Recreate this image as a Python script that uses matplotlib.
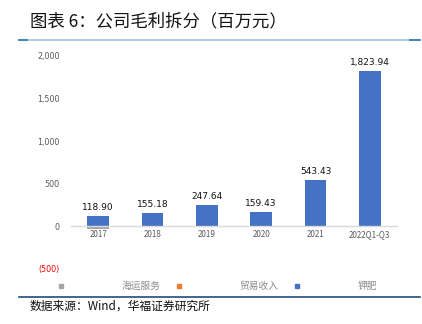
import matplotlib
matplotlib.use("Agg")
from matplotlib import pyplot as plt
from matplotlib.lines import Line2D

plt.rcParams['font.family'] = ['Noto Sans CJK SC', 'DejaVu Sans']

# data (millions of yuan)
years = ['2017', '2018', '2019', '2020', '2021', '2022Q1-Q3']
shipping = [-30, 0, 0, 0, 0, 0]      # 海运服务
trade = [-5, 0, 0, 0, 0, 0]          # 贸易收入
potash = [118.90, 155.18, 247.64, 159.43, 543.43, 1823.94]  # 钾肥
yticks = [-500, 0, 500, 1000, 1500, 2000]
ylabels = ['(500)', '0', '500', '1,000', '1,500', '2,000']

blue = '#4472c4'
orange = '#ed7d31'
grey = '#a5a5a5'

fig = plt.figure(figsize=(4.22, 3.24), dpi=100)
ax = fig.add_axes([71 / 422, 1 - 268.5 / 324, 326 / 422, 212.5 / 324])

x = range(len(years))
ax.bar(x, trade, width=0.4, color=orange)
ax.bar(x, shipping, width=0.4, bottom=trade, color=grey)
bars = ax.bar(x, potash, width=0.4, color=blue)
ax.bar_label(bars, labels=[f'{v:,.2f}' for v in potash], padding=3,
             fontsize=6.5, color='#111111', family='DejaVu Sans')

ax.set_xlim(-0.5, 5.5)
ax.set_ylim(-500, 2000)
ax.set_yticks(yticks)
ax.set_yticklabels(ylabels)
ax.set_xticks(list(x))
ax.set_xticklabels(years)
ax.tick_params(axis='y', length=0, pad=8, labelsize=5.8, labelcolor='#595959')
ax.tick_params(axis='x', length=0, pad=3, labelsize=5.8, labelcolor='#595959')
ax.get_yticklabels()[0].set_color('#ff0000')
for lab in ax.get_xticklabels() + ax.get_yticklabels():
    lab.set_family('DejaVu Sans')

for s in ['top', 'right', 'left']:
    ax.spines[s].set_visible(False)
ax.spines['bottom'].set_position(('data', 0))
ax.spines['bottom'].set_color('#d9d9d9')
ax.spines['bottom'].set_linewidth(1.0)

# legend, laid out like the source: marker, wide gap, label
handles = [Line2D([], [], marker='s', ls='', color=c, markersize=3)
           for c in (grey, orange, blue)]
leg = fig.legend(handles, ['海运服务', '贸易收入', '钾肥'], loc='center left',
                 bbox_to_anchor=(50 / 422, 1 - 286 / 324), ncol=3, frameon=False,
                 fontsize=7, handlelength=0.5, handletextpad=6.0,
                 columnspacing=1.6, labelcolor='#8c8c8c')

# title and frame lines
fig.text(30 / 422, 1 - 21 / 324, '图表 6：公司毛利拆分（百万元）', fontsize=12.5,
         fontweight='medium', style='italic', va='center', ha='left', color='#111111')
fig.add_artist(Line2D([19 / 422, 420 / 422], [1 - 40 / 324] * 2, color='#9dc3e6', lw=1.2))
fig.add_artist(Line2D([19 / 422, 27 / 422], [1 - 40 / 324] * 2, color='#2e75b6', lw=1.2))
fig.add_artist(Line2D([410 / 422, 420 / 422], [1 - 40 / 324] * 2, color='#2e75b6', lw=1.2))
fig.add_artist(Line2D([19 / 422, 420 / 422], [1 - 297 / 324] * 2, color='#1f4e79', lw=1.2))
fig.text(30 / 422, 1 - 306 / 324, '数据来源：Wind，华福证券研究所', fontsize=8.5,
         style='italic', va='center', ha='left', color='#111111')

fig.savefig('out.png', dpi=100)
